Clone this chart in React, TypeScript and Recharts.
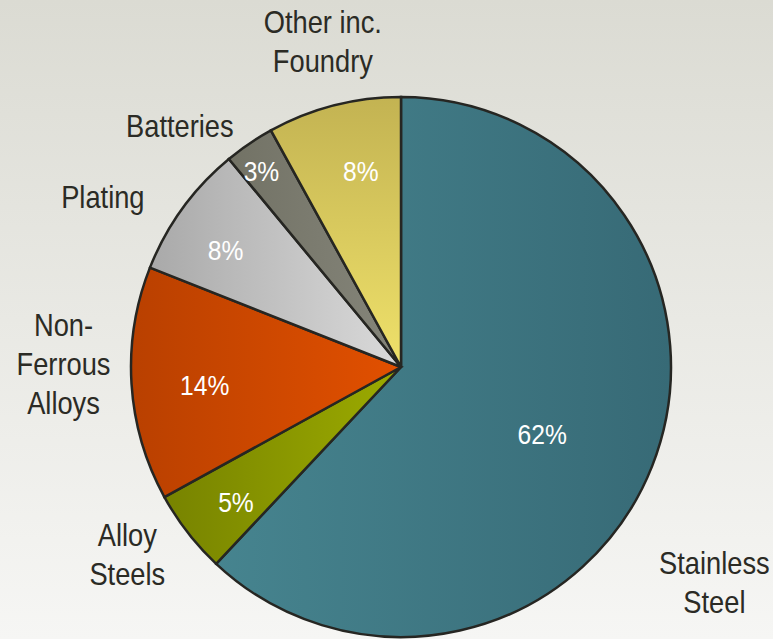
import { PieChart, Pie, Cell } from 'recharts';

// sector shares in %, clockwise from 12 o'clock
const SECTORS = ['Stainless Steel', 'Alloy Steels', 'Non-Ferrous Alloys', 'Plating', 'Batteries', 'Other inc. Foundry'];
const SHARES = [62, 5, 14, 8, 3, 8];
const NAME_LINES = [
  ['Stainless', 'Steel'],
  ['Alloy', 'Steels'],
  ['Non-', 'Ferrous', 'Alloys'],
  ['Plating'],
  ['Batteries'],
  ['Other inc.', 'Foundry'],
];

// gradient stops per slice: [from, to, vertical?]
const GRADIENTS: [string, string, boolean][] = [
  ['#46848f', '#376a76', false],
  ['#778300', '#9cab00', false],
  ['#b94000', '#e25000', false],
  ['#a9a9a9', '#dadada', false],
  ['#727265', '#85857a', false],
  ['#c3b352', '#efe16a', true],
];

// label placement relative to slice mid angle (fraction of radius, degree nudge)
const LABEL_PLACE = [
  { inner: 0.58, innerTurn: -4, outer: 1.41, outerTurn: -13 },
  { inner: 0.79, innerTurn: 1.5, outer: 1.23, outerTurn: -3.3 },
  { inner: 0.73, innerTurn: 1.7, outer: 1.25, outerTurn: -4 },
  { inner: 0.78, innerTurn: 2.4, outer: 1.27, outerTurn: 6.4 },
  { inner: 0.89, innerTurn: 1.3, outer: 1.21, outerTurn: 8.4 },
  { inner: 0.74, innerTurn: -2.8, outer: 1.24, outerTurn: -0.9 },
];

// no condensed font installed, so squeeze Liberation Sans horizontally
const FONT = '"Liberation Sans", Arial, sans-serif';
const SQUEEZE = 0.88;
const RAD = Math.PI / 180;

const data = SECTORS.map((name, i) => ({ name, value: SHARES[i] }));

function renderLabel(props: any) {
  const { cx, cy, midAngle, outerRadius, index, value } = props;
  const p = LABEL_PLACE[index];
  const ia = (midAngle + p.innerTurn) * RAD;
  const oa = (midAngle + p.outerTurn) * RAD;
  const ix = cx + outerRadius * p.inner * Math.cos(ia);
  const iy = cy - outerRadius * p.inner * Math.sin(ia);
  const ox = cx + outerRadius * p.outer * Math.cos(oa);
  const oy = cy - outerRadius * p.outer * Math.sin(oa);
  const lines = NAME_LINES[index];
  const lh = 39;
  return (
    <g key={`lbl-${index}`}>
      <text transform={`translate(${ix},${iy}) scale(${SQUEEZE},1)`} x={0} y={0} fill="#ffffff"
        textAnchor="middle" dominantBaseline="central" fontFamily={FONT} fontSize={28}>
        {value}%
      </text>
      <text transform={`translate(${ox},${oy}) scale(${SQUEEZE},1)`} x={0} y={0} fill="#2b2b25"
        textAnchor="middle" dominantBaseline="central" fontFamily={FONT} fontSize={31}>
        {lines.map((l, k) => (
          <tspan key={k} x={0} dy={k === 0 ? -((lines.length - 1) / 2) * lh : lh}>{l}</tspan>
        ))}
      </text>
    </g>
  );
}

export default function App() {
  return (
    <div style={{
      position: 'absolute', left: 0, top: 0, width: 773, height: 639,
      background: 'linear-gradient(to bottom, #dbdbd3 0%, #e9e9e4 50%, #f6f6f4 100%)',
    }}>
      <PieChart width={773} height={639} margin={{ top: 0, right: 0, bottom: 0, left: 0 }}>
        <defs>
          {GRADIENTS.map(([a, b, vert], i) => (
            <linearGradient key={i} id={`g${i}`} x1="0" y1="0" x2={vert ? '0' : '1'} y2={vert ? '1' : '0'}>
              <stop offset="0%" stopColor={a} />
              <stop offset="100%" stopColor={b} />
            </linearGradient>
          ))}
        </defs>
        <Pie
          data={data}
          dataKey="value"
          cx={401}
          cy={367}
          outerRadius={270}
          startAngle={90}
          endAngle={-270}
          stroke="#262622"
          strokeWidth={2.5}
          label={renderLabel}
          labelLine={false}
          isAnimationActive={false}
        >
          {data.map((_d, i) => (
            <Cell key={`cell-${i}`} fill={`url(#g${i})`} />
          ))}
        </Pie>
      </PieChart>
    </div>
  );
}
